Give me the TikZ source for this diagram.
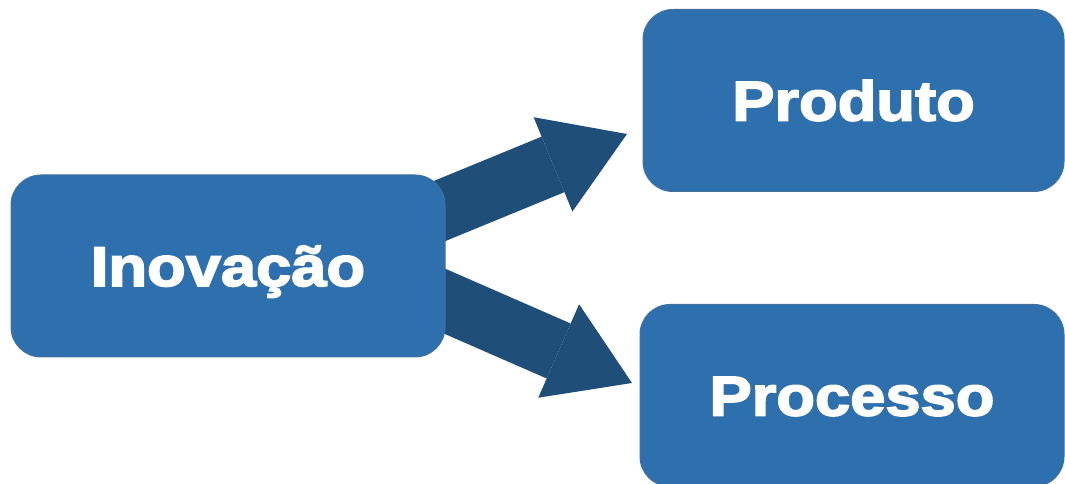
\documentclass[tikz,border=0pt]{standalone}
\usepackage{fontspec}
\usepackage{tikz}
\usetikzlibrary{arrows.meta}
\newfontfamily\caixafont{Liberation Sans}[FakeStretch=1.13, BoldFeatures={FakeBold=3}]
\definecolor{caixaazul}{RGB}{46,112,174}
\definecolor{bordaazul}{RGB}{65,113,156}
\definecolor{setaazul}{RGB}{31,78,121}

\begin{document}
\begin{tikzpicture}[x=1pt, y=1pt,
    caixa/.style ={rectangle, rounded corners=30pt, fill=caixaazul, draw=bordaazul,
      line width=1pt, text=white, minimum height=182pt, inner sep=0pt,
      text height=40pt, text depth=0pt,
      font=\caixafont\bfseries\fontsize{56}{60}\selectfont},
    seta/.style ={draw=setaazul, line width=60pt,
      -{Triangle[length=80pt, width=102pt, line width=0pt]}}]
   \clip (0,0) rectangle (1065,484);
   % pontas das setas
   \coordinate (s1) at (400,256.7);
   \coordinate (p1) at (627,350);
   \coordinate (s2) at (400,202.3);
   \coordinate (p2) at (632,101);
   \draw[seta] (s1) to (p1);
   \draw[seta] (s2) to (p2);
   \node[caixa, minimum width=434pt] (inov) at (228,218) {Inovação};
   \node[caixa, minimum width=421pt] (produto) at (853.5,383.5) {Produto};
   \node[caixa, minimum width=424pt] (processo) at (852,88.5) {Processo};
 \end{tikzpicture}
\end{document}
